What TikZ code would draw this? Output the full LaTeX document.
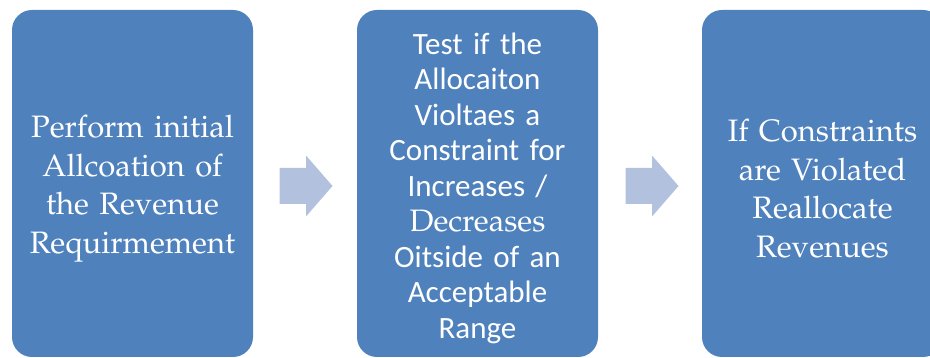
\documentclass[tikz,border=0pt]{standalone}
\usepackage[T1]{fontenc}
\usepackage{fontspec}
\newfontfamily\calib{Carlito}
\newcommand{\palfont}{\fontencoding{T1}\fontfamily{ppl}\selectfont}
\definecolor{boxblue}{HTML}{4F81BD}
\definecolor{arrowblue}{HTML}{B2C1DE}
\tikzset{
  procbox/.style={fill=boxblue, draw=none, rounded corners=20pt, minimum width=241pt, minimum height=347pt, inner sep=0pt},
  boxtext/.style={text=white, align=center, text width=236pt, inner sep=0pt},
  seriftext/.style={boxtext, font=\palfont\fontsize{31}{38.5}\selectfont},
  sanstext/.style={boxtext, font=\calib\fontsize{31}{35.5}\selectfont},
  blockarrow/.pic={\fill[arrowblue] (-26.5pt,-18pt) -- (0,-18pt) -- (0,-30.5pt) -- (26.5pt,0) -- (0,30.5pt) -- (0,18pt) -- (-26.5pt,18pt) -- cycle;}
}
\begin{document}
\begin{tikzpicture}[x=1pt,y=-1pt]
\useasboundingbox (0,0) rectangle (930,358);
\clip (0,0) rectangle (930,358);
\node[procbox] (b1) at (132.5,183.5) {};
\node[procbox] (b2) at (477.5,183.5) {};
\node[procbox] (b3) at (822.5,183.5) {};
\node[seriftext] (t1) at ([yshift=-5pt]b1.center) {Perform initial\\Allcoation of\\the Revenue\\Requirmement};
\node[sanstext] (t2) at ([yshift=-4.5pt]b2.center) {Test if the\\Allocaiton\\Violtaes a\\Constraint for\\Increases /\\{\palfont Decreases}\\Oitside of an\\Acceptable\\Range};
\node[seriftext] (t3) at ([yshift=-5pt]b3.center) {If Constraints\\are Violated\\Reallocate\\Revenues};
\coordinate (a1) at (306,186);
\coordinate (a2) at (652,186);
\pic at (a1) {blockarrow};
\pic at (a2) {blockarrow};
\end{tikzpicture}
\end{document}
